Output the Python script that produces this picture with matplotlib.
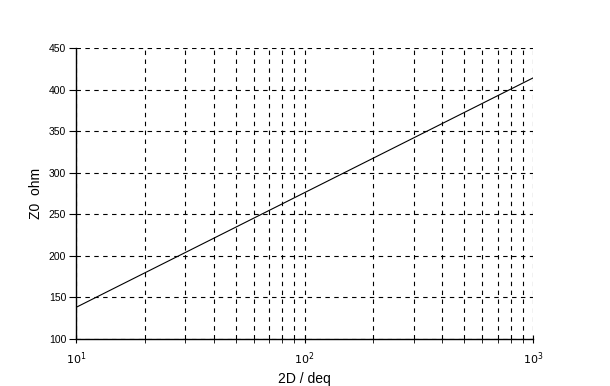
import numpy as np
import matplotlib
matplotlib.use("Agg")
import matplotlib.pyplot as plt
from matplotlib.ticker import LogLocator, NullFormatter

plt.rcParams['font.family'] = ['Liberation Sans', 'DejaVu Sans']

# data (straight line on log x)
ratio = [10, 1000]
z0 = [138, 414]
yticks = [100, 150, 200, 250, 300, 350, 400, 450]
xticks = [10, 100, 1000]
xticklabels = ["$10^{1}$", "$10^{2}$", "$10^{3}$"]

fig = plt.figure(figsize=(6.1, 3.86), dpi=100)
ax = fig.add_axes([0.1246, 0.1218, 0.7492, 0.7538])

ax.plot(ratio, z0, color='black', lw=0.8)

ax.set_xscale('log')
ax.set_xlim(10, 1000)
ax.set_ylim(100, 450)
ax.set_yticks(yticks)
ax.set_xticks(xticks)
ax.set_xticklabels(xticklabels)
ax.xaxis.set_minor_locator(LogLocator(base=10, subs=np.arange(2, 10)))
ax.xaxis.set_minor_formatter(NullFormatter())

grid_kw = dict(color='black', linestyle=(0, (4, 4)), linewidth=0.8)
ax.grid(True, which='major', axis='both', **grid_kw)
ax.grid(True, which='minor', axis='x', **grid_kw)

for s in ['top', 'right']:
    ax.spines[s].set_visible(False)
for s in ['left', 'bottom']:
    ax.spines[s].set_linewidth(1.0)

ax.tick_params(axis='y', which='major', direction='out', length=5, labelsize=7.5, pad=2)
ax.tick_params(axis='x', which='both', direction='inout', length=6, labelsize=8, pad=5)

ax.set_xlabel('2D / deq', fontsize=10)
ax.set_ylabel('Z0  ohm', fontsize=10, labelpad=4)

fig.savefig('out.png', dpi=100)
